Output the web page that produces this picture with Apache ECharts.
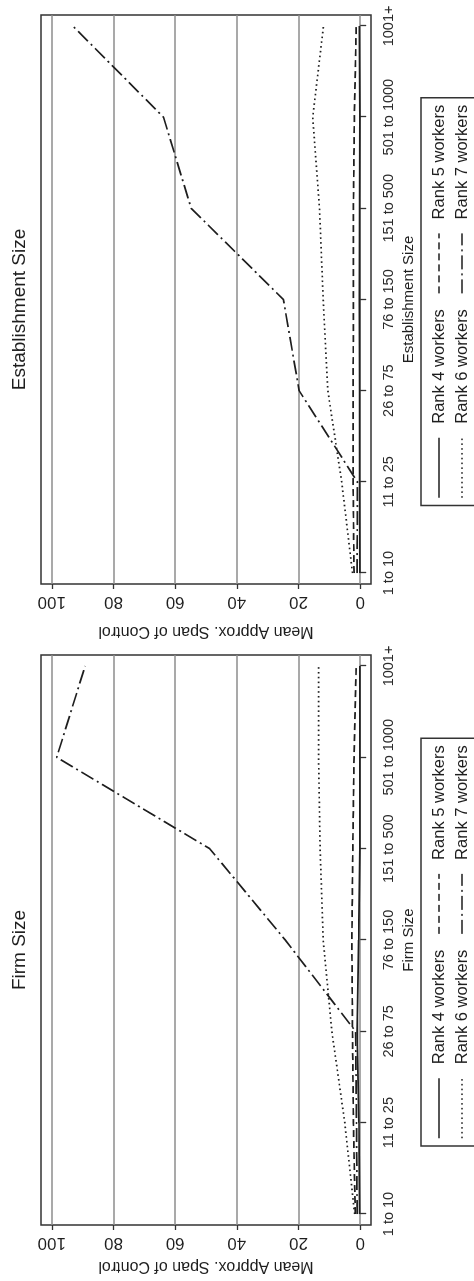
<!DOCTYPE html>
<html>
<head>
<meta charset="utf-8">
<script src="https://cdn.jsdelivr.net/npm/echarts@6/dist/echarts.min.js"></script>
<style>
  html, body { margin: 0; padding: 0; background: #fff; overflow: hidden; }
  /* the chart is drawn landscape and turned a quarter turn, like the scanned page */
  #main {
    position: absolute; left: 0; top: 0;
    width: 1281px; height: 474px;
    transform-origin: 0 0;
    transform: translate(0, 1281px) rotate(-90deg);
  }
</style>
</head>
<body>
<div id="main"></div>
<script>
const sizeCategories = ['1 to 10', '11 to 25', '26 to 75', '76 to 150', '151 to 500', '501 to 1000', '1001+']
const valueTicks = [0, 20, 40, 60, 80, 100]
const rankNames = ['Rank 4 workers', 'Rank 5 workers', 'Rank 6 workers', 'Rank 7 workers']

// Firm Size panel
const firmRank4 = [0.2, 0.4, 1.0, 0.5, 0.1, 0.1, 0.1]
const firmRank5 = [1.6, 2.2, 2.5, 2.7, 2.4, 2.0, 1.3]
const firmRank6 = [1.8, 5.0, 9.2, 12.0, 13.0, 13.5, 13.5]
const firmRank7 = [1.0, 1.2, 1.5, 24.3, 48.8, 98.4, 89.2]

// Establishment Size panel
const estRank4 = [0.1, 0.2, 0.2, 0.3, 0.2, 0.1, 0.3]
const estRank5 = [2.0, 2.3, 2.3, 2.2, 2.2, 1.9, 1.3]
const estRank6 = [2.5, 6.0, 10.5, 12.0, 13.2, 15.4, 11.9]
const estRank7 = [1.0, 0.9, 19.8, 24.9, 54.8, 63.8, 93.2]

var chartDom = document.getElementById('main')
var myChart = echarts.init(chartDom)

const FONT = 'Liberation Sans, Arial, Helvetica, sans-serif'
const INK = '#1e1e1e'
// solid, dashed, dotted, dot-dash (R lty 1..4)
const dashes = ['solid', [7, 4], [1.6, 3.2], [14, 4, 2, 4]]

const panels = [
  { title: 'Firm Size', left: 56, width: 570, nameGap: 33, data: [firmRank4, firmRank5, firmRank6, firmRank7] },
  { title: 'Establishment Size', left: 697, width: 569, nameGap: 39, data: [estRank4, estRank5, estRank6, estRank7] }
]

function toPoints (arr) {
  return arr.map(function (v, i) { return [i + 1, v] })
}

// one legend per row, two columns each, like R's ncol = 2 legend
function legendRow (p, row) {
  var first = row === 0
  return {
    left: p.left + p.width / 2 - 206,
    top: first ? 421 : 453.5,
    orient: 'horizontal',
    padding: first ? [9.5, 7, 40, 7] : [0, 7, 0, 7],
    itemGap: 15,
    itemWidth: 60,
    itemHeight: 14,
    borderColor: first ? '#333' : 'transparent',
    borderWidth: first ? 1.5 : 0,
    borderRadius: 0,
    selectedMode: false,
    itemStyle: { opacity: 0 },
    formatter: function (name) { return '{a| }{t|' + name + '}' },
    textStyle: {
      fontFamily: FONT,
      fontSize: 16.5,
      color: INK,
      rich: {
        a: { width: 9 },
        t: { fontFamily: FONT, fontSize: 16.5, color: INK }
      }
    },
    data: [0, 1].map(function (c) {
      var k = row * 2 + c
      return { name: rankNames[k], lineStyle: { width: 1.5, type: dashes[k], color: INK } }
    })
  }
}

var option = {
  animation: false,
  backgroundColor: '#fff',
  title: panels.map(function (p) {
    return {
      text: p.title,
      left: p.left + p.width / 2 - 10,
      top: 10,
      textAlign: 'center',
      padding: 0,
      textStyle: { fontFamily: FONT, fontSize: 19, fontWeight: 'normal', color: INK }
    }
  }),
  legend: [legendRow(panels[0], 0), legendRow(panels[0], 1), legendRow(panels[1], 0), legendRow(panels[1], 1)],
  grid: panels.map(function (p) {
    return {
      left: p.left, top: 41, width: p.width, height: 330,
      show: true, borderColor: '#333', borderWidth: 1.5, backgroundColor: 'transparent'
    }
  }),
  xAxis: panels.map(function (p, i) {
    return {
      type: 'value',
      gridIndex: i,
      min: 0.88,
      max: 7.12,
      name: p.title,
      nameLocation: 'middle',
      nameGap: 23,
      nameTextStyle: { fontFamily: FONT, fontSize: 15, color: INK },
      axisLine: { show: false },
      axisTick: { show: true, length: 6, customValues: [1, 2, 3, 4, 5, 6, 7], lineStyle: { color: '#333', width: 1.3 } },
      axisLabel: {
        customValues: [1, 2, 3, 4, 5, 6, 7],
        margin: 10,
        fontFamily: FONT,
        fontSize: 14.5,
        color: '#2a2a2a',
        formatter: function (v) { return sizeCategories[Math.round(v) - 1] }
      },
      splitLine: { show: false }
    }
  }),
  yAxis: panels.map(function (p, i) {
    return {
      type: 'value',
      gridIndex: i,
      min: -3.5,
      max: 103.5,
      name: 'Mean Approx. Span of Control',
      nameLocation: 'middle',
      nameRotate: 90,
      nameGap: p.nameGap,
      nameTextStyle: { fontFamily: FONT, fontSize: 16, color: INK },
      axisLine: { show: false },
      axisTick: { show: true, length: 5, customValues: valueTicks, lineStyle: { color: '#333', width: 1.3 } },
      axisLabel: { customValues: valueTicks, rotate: 90, margin: 9, fontFamily: FONT, fontSize: 17, color: INK },
      splitLine: { show: true, lineStyle: { color: '#8c8c8c', width: 1.5 } }
    }
  }),
  series: []
}

panels.forEach(function (p, i) {
  p.data.forEach(function (arr, k) {
    option.series.push({
      type: 'line',
      name: rankNames[k],
      xAxisIndex: i,
      yAxisIndex: i,
      data: toPoints(arr),
      symbol: 'none',
      color: INK,
      lineStyle: { width: 1.7, type: dashes[k], color: INK }
    })
  })
})

option && myChart.setOption(option)
</script>
</body>
</html>
